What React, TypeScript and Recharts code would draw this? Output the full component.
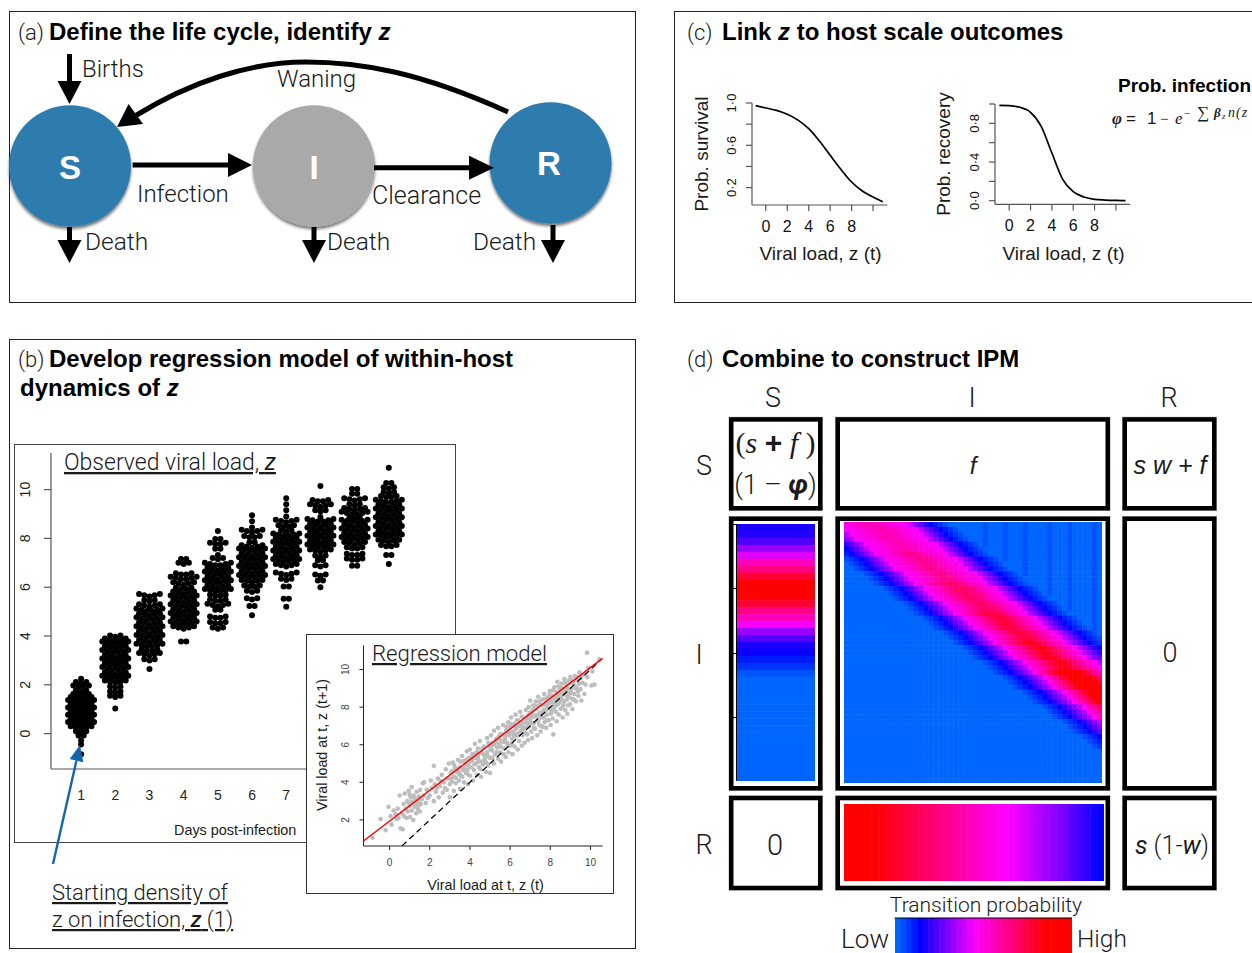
import React from "react";
import {
  ScatterChart,
  Scatter,
  LineChart,
  Line,
  XAxis,
  YAxis,
} from "recharts";

// Composite figure: life cycle diagram (a), swarm + regression (b),
// host scale curves (c) and the IPM block matrix (d).

const SANS = "'Liberation Sans', Arial, sans-serif";
const LIGHT = "Roboto, 'Liberation Sans', sans-serif";
const SERIF = "'Liberation Serif', 'DejaVu Serif', serif";

// (b) swarm rows: [viral load, dots in that row]
const day1Rows = [[-0.85,1],[-0.45,1],[-0.28,1],[-0.1,2],[0.05,3],[0.2,5],[0.35,6],[0.5,5],[0.65,6],[0.8,5],[0.95,6],[1.1,5],[1.25,6],[1.4,5],[1.55,4],[1.72,3],[1.9,4],[2.07,3],[2.25,1]];
const day2Rows = [[1.03,1],[1.5,3],[1.68,3],[1.88,3],[2.08,5],[2.25,6],[2.42,5],[2.6,6],[2.78,5],[2.95,6],[3.12,5],[3.3,6],[3.48,5],[3.65,6],[3.8,5],[3.97,3]];
const day3Rows = [[2.65,1],[3.0,3],[3.2,5],[3.38,4],[3.56,6],[3.74,5],[3.92,6],[4.1,5],[4.28,6],[4.46,5],[4.64,6],[4.82,5],[5.0,6],[5.2,5],[5.42,3],[5.62,5]];
const day4Rows = [[3.75,2],[4.3,5],[4.47,6],[4.65,5],[4.82,6],[5.0,5],[5.18,6],[5.36,5],[5.54,6],[5.72,5],[5.9,4],[6.1,5],[6.3,6],[6.5,4],[6.95,3],[7.13,2]];
const day5Rows = [[4.3,3],[4.5,4],[4.72,4],[5.05,2],[5.22,5],[5.42,4],[5.62,4],[5.8,6],[5.98,5],[6.16,6],[6.34,5],[6.52,6],[6.7,5],[6.88,6],[7.15,3],[7.32,1],[7.55,2],[7.75,4],[7.95,2],[8.3,1]];
const day6Rows = [[4.85,1],[5.2,2],[5.5,3],[5.8,3],[6.0,4],[6.2,5],[6.38,6],[6.56,5],[6.74,6],[6.92,5],[7.1,6],[7.28,5],[7.46,6],[7.62,5],[7.82,2],[8.02,4],[8.25,5],[8.45,1],[8.7,1],[8.95,1]];
const day7Rows = [[5.2,1],[5.5,2],[6.0,2],[6.3,3],[6.5,5],[6.85,5],[7.03,6],[7.2,5],[7.38,6],[7.56,5],[7.74,6],[7.92,5],[8.08,6],[8.28,3],[8.46,4],[8.66,5],[8.9,1],[9.15,1],[9.4,1],[9.65,1]];
const day8Rows = [[6.0,1],[6.25,2],[6.47,3],[6.85,3],[7.08,2],[7.25,3],[7.45,5],[7.63,6],[7.8,5],[7.98,6],[8.15,5],[8.32,6],[8.5,5],[8.67,6],[8.88,1],[9.1,3],[9.3,5],[9.5,4],[10.15,1]];
const day9Rows = [[6.85,2],[7.1,4],[7.3,4],[7.56,4],[7.75,5],[7.93,6],[8.1,5],[8.28,6],[8.46,5],[8.64,6],[8.8,3],[8.97,6],[9.15,5],[9.35,3],[9.55,5],[9.8,2],[10.0,2]];
const day10Rows = [[6.95,1],[7.3,2],[7.65,4],[7.85,5],[8.03,6],[8.2,5],[8.38,6],[8.56,5],[8.74,6],[8.92,5],[9.1,6],[9.28,5],[9.46,6],[9.66,4],[9.85,3],[10.05,3],[10.25,2],[10.9,1]];
const swarmDays = [day1Rows, day2Rows, day3Rows, day4Rows, day5Rows, day6Rows, day7Rows, day8Rows, day9Rows, day10Rows];
const dayTicks = [1, 2, 3, 4, 5, 6, 7, 8, 9, 10];
const swarmYTicks = [0, 2, 4, 6, 8, 10];

// (b) inset scatter, [z(t), z(t+1)]
const regressionPoints = [
  [-0.85,1.05],[-0.45,2.05],[-0.2,1.45],[-0.05,2.7],[0.05,2.2],[0.1,1.75],[0.2,2.5],[0.3,2.3],[0.35,2.05],[0.4,2.6],[0.45,2.1],[0.5,3.3],[0.55,1.55],[0.6,2.35],[0.65,1.5],[0.7,2.85],
  [0.72,2.2],[0.75,3.4],[0.8,2.6],[0.85,2.1],[0.88,3.0],[0.9,2.45],[0.95,3.55],[1.0,2.75],[1.02,2.15],[1.05,3.2],[1.1,2.5],[1.1,3.75],[1.15,2.9],[1.18,2.0],[1.2,3.3],[1.25,2.7],
  [1.3,3.0],[1.32,2.35],[1.35,3.5],[1.4,2.6],[1.42,2.95],[1.45,3.25],[1.5,2.45],[1.52,3.6],[1.55,2.85],[1.6,3.1],[1.65,3.95],[1.7,3.3],[1.72,4.0],[1.8,2.9],[1.85,3.6],[1.9,3.15],
  [2.0,3.3],[2.05,4.1],[2.1,3.7],[2.2,4.88],[2.2,3.0],[2.25,3.9],[2.3,3.5],[2.4,4.2],[2.45,3.2],[2.5,3.8],[2.6,4.4],[2.65,3.45],[2.7,4.0],[2.8,4.7],[2.85,3.6],[2.9,4.2],
  [2.95,5.0],[3.0,3.9],[3.0,3.2],[3.05,4.5],[3.1,4.05],[3.15,5.05],[3.2,4.3],[3.2,3.55],[3.25,4.7],[3.3,3.95],[3.35,4.55],[3.4,5.2],[3.45,4.1],[3.5,4.8],[3.5,3.65],[3.55,4.35],
  [3.6,5.4],[3.65,4.65],[3.7,4.0],[3.75,5.0],[3.8,4.5],[3.85,5.65],[3.9,3.9],[3.9,4.9],[3.95,5.3],[4.0,4.35],[4.0,5.75],[4.05,4.8],[4.1,5.15],[4.15,4.1],[4.2,5.5],[4.2,4.65],
  [4.25,6.05],[4.3,5.0],[4.35,4.4],[4.4,5.35],[4.4,5.8],[4.45,4.8],[4.5,6.2],[4.5,5.1],[4.55,4.3],[4.6,5.55],[4.65,4.95],[4.7,5.9],[4.75,5.25],[4.8,4.55],[4.85,6.35],[4.85,5.6],
  [4.9,4.9],[4.95,5.95],[5.0,5.3],[5.0,4.5],[5.05,6.5],[5.1,5.7],[5.15,6.1],[5.2,5.0],[5.2,6.75],[5.25,5.5],[5.3,6.3],[5.35,5.85],[5.4,5.25],[5.4,6.9],[5.45,6.05],[5.5,5.6],
  [5.5,6.55],[5.55,5.1],[5.6,6.2],[5.65,7.05],[5.7,5.8],[5.72,6.45],[5.78,5.35],[5.8,6.75],[5.85,6.1],[5.9,7.2],[5.92,5.6],[5.95,6.5],[6.0,6.9],[6.0,5.95],[6.05,7.45],[6.1,6.3],
  [6.12,5.5],[6.15,6.7],[6.2,7.1],[6.22,5.9],[6.27,7.6],[6.3,6.45],[6.35,6.95],[6.38,5.75],[6.4,7.3],[6.45,6.2],[6.5,7.75],[6.5,6.7],[6.55,7.15],[6.58,5.95],[6.62,6.5],[6.65,7.45],
  [6.7,6.9],[6.72,6.1],[6.78,7.85],[6.8,7.2],[6.85,6.55],[6.88,7.55],[6.9,6.25],[6.92,8.0],[6.95,7.0],[7.0,7.35],[7.0,8.35],[7.05,6.7],[7.08,7.7],[7.1,6.35],[7.15,8.1],[7.18,7.15],
  [7.2,7.5],[7.25,6.85],[7.28,8.3],[7.3,7.9],[7.35,6.5],[7.38,7.35],[7.4,8.55],[7.45,7.05],[7.48,7.7],[7.5,8.15],[7.52,6.7],[7.58,7.45],[7.6,8.4],[7.62,6.95],[7.68,7.85],[7.7,8.7],
  [7.72,7.2],[7.78,8.2],[7.8,6.9],[7.82,7.6],[7.88,8.5],[7.9,7.95],[7.92,7.3],[7.98,8.85],[8.0,8.25],[8.02,7.05],[8.05,7.7],[8.1,8.6],[8.12,7.4],[8.15,6.55],[8.18,8.0],[8.2,9.05],
  [8.22,8.4],[8.28,7.75],[8.3,8.8],[8.32,7.25],[8.35,9.35],[8.38,8.15],[8.4,8.6],[8.42,7.6],[8.48,9.0],[8.5,8.35],[8.52,7.9],[8.55,9.25],[8.6,8.7],[8.62,7.45],[8.65,8.1],[8.7,9.5],
  [8.72,8.9],[8.75,7.85],[8.8,9.15],[8.82,8.4],[8.85,7.65],[8.9,8.75],[8.92,9.4],[8.98,8.15],[9.0,9.6],[9.02,8.95],[9.08,8.45],[9.1,7.9],[9.15,9.25],[9.2,8.7],[9.22,9.65],[9.28,8.3],
  [9.3,9.05],[9.35,9.45],[9.4,8.6],[9.45,9.85],[9.5,8.95],[9.55,8.35],[9.6,9.3],[9.65,9.7],[9.7,8.7],[9.75,9.2],[9.83,10.9],[9.85,9.6],[9.9,10.1],[10.05,9.15],[10.1,9.9],[10.2,9.2],[10.45,10.55],
  [3.1,4.6],[3.22,4.9],[3.3,4.25],[3.42,4.6],[3.52,5.1],[3.62,4.3],[3.72,4.75],[3.82,5.2],[3.92,4.4],[4.02,5.1],[4.12,5.5],[4.22,4.95],[4.32,5.6],[4.42,5.15],[4.52,4.7],[4.62,5.8],
  [4.72,5.45],[4.82,5.05],[4.92,6.1],[5.02,5.75],[5.12,5.3],[5.22,6.0],[5.32,5.6],[5.42,6.4],[5.52,5.9],[5.62,6.55],[5.68,5.5],[5.75,6.3],[5.82,6.95],[5.88,6.0],[5.98,6.65],[6.08,6.05],
  [6.08,7.0],[6.18,6.5],[6.28,6.85],[6.33,7.3],[6.42,6.6],[6.48,7.1],[6.58,7.5],[6.6,6.8],[6.68,7.2],[6.75,6.65],[6.82,7.4],[6.88,6.95],[6.98,7.7],[7.03,7.15],[7.12,7.85],[7.18,6.9],
  [7.25,7.55],[7.32,8.05],[7.4,7.25],[7.45,8.3],[7.5,7.65],[7.55,7.0],[7.62,8.1],[7.68,7.45],[7.75,8.45],[7.8,7.85],[7.85,7.3],[7.92,8.2],[7.95,8.65],[8.02,7.65],[8.08,8.35],[8.13,8.9],
  [8.18,7.85],[8.25,8.55],[8.3,8.1],[8.35,8.75],[8.4,9.1],[8.45,8.25],[8.5,8.8],[8.55,8.5],[8.58,7.95],[8.62,9.0],[8.68,8.3],[8.72,9.3],[8.78,8.65],[8.85,9.0],[8.88,8.1],[8.92,8.55],
  [8.95,9.3],[9.05,8.75],[9.12,9.4],[9.18,8.4],[9.25,9.0],[9.32,9.6],[9.38,8.85],[9.42,9.25],[9.5,9.55],[1.25,3.15],[1.1,2.95],[0.95,2.9],[1.35,2.75],[1.0,3.35],[1.45,2.8],[2.35,3.7],
  [2.75,3.7],[2.55,4.05],[3.05,4.2],[3.28,4.75],[3.48,4.45],[3.68,5.15],[3.88,4.65],[4.08,5.3],[4.28,5.3],[4.48,5.55],[4.68,5.15],[4.88,5.4],[5.08,5.95],[5.28,6.15],[5.48,6.3],[5.68,6.15],
  [5.88,6.55],[6.02,7.1],[6.25,6.6],[6.45,7.0],[6.65,6.95],[6.85,7.15],[7.05,7.5],[7.22,7.9],[7.42,7.6],[7.62,7.75],[7.82,8.05],[8.0,7.9],[8.2,8.2],[8.4,8.4],[8.6,8.35],[8.8,8.85],
];
const regressionLine = [{ x: -1.3, y: 0.88 }, { x: 10.6, y: 10.59 }];
const identityLine = [{ x: 0.62, y: 0.62 }, { x: 10.5, y: 10.5 }];
const regXTicks = [0, 2, 4, 6, 8, 10];
const regYTicks = [2, 4, 6, 8, 10];

// (c) curves
const survivalX = [-0.95, 0, 1, 2, 3, 4, 5, 6, 7, 8, 9, 10, 10.9];
const survivalY = [0.975, 0.953, 0.93, 0.893, 0.838, 0.757, 0.64, 0.505, 0.373, 0.253, 0.168, 0.11, 0.067];
const recoveryX = [-0.92, 0, 1, 2, 3, 4, 5, 6, 7, 8, 9, 10, 10.9];
const recoveryY = [0.986, 0.983, 0.966, 0.914, 0.769, 0.493, 0.224, 0.093, 0.038, 0.014, 0.007, 0.003, 0.001];
const curveXTicks = [0, 2, 4, 6, 8, 10];
const survivalYTicks = [0.2, 0.4, 0.6, 0.8, 1];
const survivalLabels = [0.2, 0.6, 1];
const recoveryYTicks = [0, 0.2, 0.4, 0.6, 0.8, 1];
const recoveryLabels = [0, 0.4, 0.8];

// (d) heat values, 0..1 per cell
const infectionColumn = [0.15,0.16,0.21,0.3,0.38,0.52,0.6,0.72,0.86,0.9,0.86,0.72,0.6,0.52,0.41,0.3,0.22,0.15,0.13,0.09,0.06,0.02,0,0,0,0,0,0,0,0,0,0,0,0,0,0,0];

// the I to I matrix is read row by row: where the band starts and which cross-section it has.
// Cross-sections are base 36 digits (digit / 35), reddest in the middle.
const bandShapes = [
  "0123468ACFFGGHIIJIIHGGFFCA8643210",
  "0123468ACFGGHIJKLKJIHGGFCA8643210",
  "0123468ACFGHIKLMNMLKIHGFCA8643210",
  "0123468ACFGIJLNOPONLJIGFCA8643210",
  "0123468ACFHIKMOQRQOMKIHFCA8643210",
  "0123468ACFIKNQSTUTSQNKIFCA8643210",
];
const bandStarts = [-11,-9,-8,-7,-5,-4,-3,-1,0,1,3,4,5,7,8,9,11,12,13,15,16,17,19,20,21,23,24,25,27,28,29,31,32,33,35,36,37,39,40,41,43,44,45,47,48,49,51,52,52,52,52,52,52];
const bandShapeOfRow = [0,0,0,0,0,0,1,1,1,1,1,1,2,2,2,2,2,2,3,3,3,3,3,3,4,4,4,4,4,4,5,5,5,5,5,5,5,5,5,5,5,5,5,5,5,5,5,5,5,5,5,5,5];
const stripeCols = [28, 32, 36, 41, 45, 50]; // faint darker columns above the band
const stripeValue = 0.025;

const recoveredRow = [0.9,0.88,0.86,0.84,0.8,0.78,0.76,0.74,0.72,0.7,0.68,0.66,0.64,0.62,0.6,0.58,0.56,0.54,0.52,0.5,0.48,0.46,0.44,0.42,0.41,0.39,0.37,0.35,0.33,0.31,0.29,0.27,0.25,0.22,0.2,0.17,0.14,0.12];
const legendRow = [0,0.03,0.06,0.09,0.12,0.15,0.18,0.21,0.24,0.27,0.3,0.33,0.36,0.39,0.42,0.45,0.48,0.51,0.54,0.57,0.6,0.63,0.66,0.69,0.72,0.75,0.78,0.81,0.86,0.9,0.95,1];

const heatStops: [number, number[]][] = [
  [0, [0, 102, 255]],
  [0.12, [0, 0, 255]],
  [0.42, [255, 0, 255]],
  [0.8, [255, 0, 0]],
  [1, [255, 0, 0]],
];

function heatColor(t: number) {
  for (let i = 1; i < heatStops.length; i++) {
    const [t1, c1] = heatStops[i];
    const [t0, c0] = heatStops[i - 1];
    if (t <= t1) {
      const f = (t - t0) / (t1 - t0);
      return `rgb(${c0.map((c, k) => Math.round(c + (c1[k] - c) * f)).join(",")})`;
    }
  }
  return "rgb(255,0,0)";
}

const swarmPoints = swarmDays.flatMap((rows, d) =>
  rows.flatMap(([level, n]) =>
    Array.from({ length: n }, (_, i) => {
      const off = i - (n - 1) / 2;
      return { x: d + 1 + off * 0.152, y: level + Math.abs(off) * 0.05 };
    })
  )
);
const regressionData = regressionPoints.map(([x, y]) => ({ x, y }));
const survivalData = survivalX.map((x, i) => ({ x, y: survivalY[i] }));
const recoveryData = recoveryX.map((x, i) => ({ x, y: recoveryY[i] }));

const MATRIX_COLS = 52;
const transitionCells = bandStarts.flatMap((start, r) =>
  Array.from({ length: MATRIX_COLS }, (_, c) => {
    const digit = bandShapes[bandShapeOfRow[r]][c - start];
    const above = c - start > 32 && stripeCols.includes(c);
    return { x: c + 0.5, y: r + 0.5, t: digit ? parseInt(digit, 36) / 35 : above ? stripeValue : 0 };
  })
);

const place = (left: number, top: number): React.CSSProperties => ({ position: "absolute", left, top });
const noDot = () => <g />;

// one rect per cell, sized from the chart box
function HeatGrid({ cells, cols, rows, left, top, width, height }: {
  cells: { x: number; y: number; t: number }[];
  cols: number; rows: number; left: number; top: number; width: number; height: number;
}) {
  const w = width / cols;
  const h = height / rows;
  return (
    <div style={place(left, top)}>
      <ScatterChart width={width} height={height} margin={{ top: 0, right: 0, bottom: 0, left: 0 }}>
        <XAxis type="number" dataKey="x" domain={[0, cols]} hide />
        <YAxis type="number" dataKey="y" domain={[0, rows]} reversed hide />
        <Scatter
          data={cells}
          isAnimationActive={false}
          shape={(p: any) => (
            <rect x={p.cx - w / 2} y={p.cy - h / 2} width={w + 0.5} height={h + 0.5} fill={heatColor(p.payload.t)} />
          )}
        />
      </ScatterChart>
    </div>
  );
}

const rotatedTick = (labels: number[] | null, size: number, fill: string, fmt: (v: number) => string) => (p: any) => {
  const v = p.payload.value;
  if (labels && !labels.some((l) => Math.abs(l - v) < 1e-6)) return <g />;
  return (
    <text x={p.x} y={p.y} transform={`rotate(-90 ${p.x} ${p.y})`} textAnchor="middle" fontSize={size} fontFamily={SANS} fill={fill}>
      {fmt(v)}
    </text>
  );
};

const plainXTick = (size: number, fill: string, maxLabel: number) => (p: any) =>
  p.payload.value > maxLabel ? <g /> : (
    <text x={p.x} y={p.y} textAnchor="middle" fontSize={size} fontFamily={SANS} fill={fill}>
      {p.payload.value}
    </text>
  );

const midDot = (v: number) => v.toFixed(1).replace(".", "\u00b7");

function CurveChart({ data, left, plotW, xDomain, yDomain, yTicks, yLabels, top }: any) {
  const yw = 40;
  const pad = 14; // room for the rotated label at the top tick
  return (
    <div style={place(left - yw, top - pad)}>
      <LineChart width={yw + plotW + 4} height={204.7 - top + 36 + pad} data={data} margin={{ top: pad, right: 4, bottom: 0, left: 0 }}>
        <XAxis
          type="number"
          dataKey="x"
          domain={xDomain}
          ticks={curveXTicks}
          interval={0}
          height={36}
          stroke="#555"
          strokeWidth={1.2}
          tickSize={6}
          tickMargin={21}
          tick={plainXTick(16, "#111", 8)}
        />
        <YAxis
          type="number"
          dataKey="y"
          domain={yDomain}
          ticks={yTicks}
          interval={0}
          width={yw}
          stroke="#555"
          strokeWidth={1.2}
          tickSize={6}
          tickMargin={10}
          tick={rotatedTick(yLabels, 13, "#111", midDot)}
        />
        <Line type="monotone" dataKey="y" stroke="#000" strokeWidth={1.7} dot={false} isAnimationActive={false} />
      </LineChart>
    </div>
  );
}

function T({ x, y, size = 24, weight, family = LIGHT, anchor, fill = "#1a1a1a", rotate, under, style, children }: any) {
  return (
    <text
      x={x}
      y={y}
      fontSize={size}
      fontWeight={weight ?? (family === LIGHT ? 300 : 400)}
      fontFamily={family}
      textAnchor={anchor}
      fill={fill}
      textDecoration={under ? "underline" : undefined}
      transform={rotate ? `rotate(-90 ${x} ${y})` : undefined}
      style={style}
    >
      {children}
    </text>
  );
}

const Arrow = ({ x1, y1, x2, y2, head = 24, len = 24, w = 5, color = "#000" }: any) => {
  const dx = x2 - x1;
  const dy = y2 - y1;
  const d = Math.hypot(dx, dy);
  const ux = dx / d;
  const uy = dy / d;
  const bx = x2 - ux * len;
  const by = y2 - uy * len;
  return (
    <g>
      <line x1={x1} y1={y1} x2={bx} y2={by} stroke={color} strokeWidth={w} />
      <polygon
        points={`${x2},${y2} ${bx - (uy * head) / 2},${by + (ux * head) / 2} ${bx + (uy * head) / 2},${by - (ux * head) / 2}`}
        fill={color}
      />
    </g>
  );
};

const boxCols = [[728.5, 823], [835, 1110.5], [1122, 1217]];
const boxRows = [[416.7, 511], [516, 791], [795.3, 890.7]];

export default function App() {
  return (
    <div style={{ position: "absolute", left: 0, top: 0, width: 1252, height: 953, overflow: "hidden", background: "#fff" }}>
      {/* frames under the charts */}
      <svg width={1252} height={953} style={place(0, 0)}>
        <rect x={9.5} y={11.5} width={626} height={291} fill="none" stroke="#222" />
        <rect x={9.5} y={339.5} width={626} height={609} fill="none" stroke="#222" />
        <rect x={674.5} y={11.5} width={600} height={291} fill="none" stroke="#222" />
        <rect x={14.5} y={444.5} width={441} height={398} fill="none" stroke="#444" />
        {boxCols.map(([x0, x1]) =>
          boxRows.map(([y0, y1]) => (
            <g key={`${x0}-${y0}`}>
              <rect x={x0} y={y0} width={x1 - x0} height={y1 - y0} fill="#bbb" />
              <rect x={x0 + 0.5} y={y0 + 0.5} width={x1 - x0 - 1} height={y1 - y0 - 1} fill="#000" />
              <rect x={x0 + 5} y={y0 + 5} width={x1 - x0 - 10} height={y1 - y0 - 10} fill="#fff" />
            </g>
          ))
        )}
      </svg>

      {/* swarm */}
      <div style={place(14, 444)}>
        <ScatterChart width={441} height={398} margin={{ top: 9, right: 32, bottom: 0, left: 0 }}>
          <XAxis
            type="number"
            dataKey="x"
            domain={[0.12, 11]}
            ticks={dayTicks}
            interval={0}
            height={73}
            stroke="#555"
            strokeWidth={1.2}
            tickLine={false}
            tickSize={0}
            tickMargin={31}
            tick={plainXTick(14, "#222", 10)}
          />
          <YAxis
            type="number"
            dataKey="y"
            domain={[-1.45, 11.5]}
            ticks={swarmYTicks}
            interval={0}
            width={37}
            stroke="#555"
            strokeWidth={1.2}
            tickSize={7}
            tickMargin={14}
            tick={rotatedTick(null, 14, "#222", String)}
          />
          <Scatter
            data={swarmPoints}
            isAnimationActive={false}
            shape={(p: any) => <circle cx={p.cx} cy={p.cy} r={3} fill="#000" />}
          />
        </ScatterChart>
      </div>

      {/* regression inset */}
      <div style={{ ...place(306, 634), width: 308, height: 260, boxSizing: "border-box", border: "1.5px solid #333", background: "#fff" }}>
        <ScatterChart width={305} height={257} margin={{ top: 10.5, right: 9.5, bottom: 0, left: 0 }}>
          <XAxis
            type="number"
            dataKey="x"
            domain={[-1.3, 10.6]}
            ticks={regXTicks}
            interval={0}
            height={46}
            stroke="#222"
            tickSize={4}
            tickMargin={16}
            tick={plainXTick(10, "#444", 10)}
          />
          <YAxis
            type="number"
            dataKey="y"
            domain={[0.613, 11.28]}
            ticks={regYTicks}
            interval={0}
            width={56.5}
            stroke="#222"
            tickSize={4}
            tickMargin={10}
            tick={rotatedTick(null, 10, "#444", String)}
          />
          <Scatter
            data={regressionData}
            isAnimationActive={false}
            shape={(p: any) => <circle cx={p.cx} cy={p.cy} r={2.3} fill="#bdbdbd" />}
          />
          <Scatter
            data={identityLine}
            isAnimationActive={false}
            line={{ stroke: "#000", strokeWidth: 1.3, strokeDasharray: "6 4" }}
            shape={noDot}
          />
          <Scatter
            data={regressionLine}
            isAnimationActive={false}
            line={{ stroke: "#f00", strokeWidth: 1.5 }}
            shape={noDot}
          />
        </ScatterChart>
      </div>

      {/* (c) */}
      <CurveChart data={survivalData} left={751.9} top={102.7} plotW={135.3} xDomain={[-1.29, 11.33]} yDomain={[0.0355, 1]} yTicks={survivalYTicks} yLabels={survivalLabels} />
      <CurveChart data={recoveryData} left={994.5} top={104.3} plotW={135} xDomain={[-1.33, 11.32]} yDomain={[-0.038, 1]} yTicks={recoveryYTicks} yLabels={recoveryLabels} />

      {/* (d) */}
      <HeatGrid
        cells={infectionColumn.map((t, r) => ({ x: 0.5, y: r + 0.5, t }))}
        cols={1} rows={infectionColumn.length}
        left={736.5} top={524} width={78.5} height={256.7}
      />
      <HeatGrid
        cells={transitionCells}
        cols={MATRIX_COLS} rows={bandStarts.length}
        left={844} top={521.7} width={258} height={261.3}
      />
      <HeatGrid
        cells={recoveredRow.map((t, c) => ({ x: c + 0.5, y: 0.5, t }))}
        cols={38} rows={1}
        left={844} top={804} width={260} height={77}
      />
      <HeatGrid
        cells={legendRow.map((t, c) => ({ x: c + 0.5, y: 0.5, t }))}
        cols={32} rows={1}
        left={894.5} top={918} width={177.5} height={35}
      />

      {/* diagram and text on top */}
      <svg width={1252} height={953} style={{ ...place(0, 0), pointerEvents: "none" }}>
        <defs>
          <filter id="sh" x="-10%" y="-10%" width="120%" height="125%">
            <feDropShadow dx={0} dy={2.5} stdDeviation={1.6} floodColor="#000" floodOpacity={0.55} />
          </filter>
        </defs>

        {/* (a) */}
        <T x={18} y={40} size={22}>(a)</T>
        <T x={49} y={40} weight={700} family={SANS} fill="#000">
          Define the life cycle, identify <tspan fontStyle="italic">z</tspan>
        </T>
        <ellipse cx={70} cy={166} rx={61} ry={60.7} fill="#2e7bae" filter="url(#sh)" />
        <ellipse cx={314} cy={166} rx={61} ry={60.7} fill="#a9a9a9" filter="url(#sh)" />
        <ellipse cx={550.5} cy={163} rx={61} ry={60.7} fill="#2e7bae" filter="url(#sh)" />
        <T x={70} y={179} size={33} weight={700} family={SANS} anchor="middle" fill="#fff">S</T>
        <T x={314} y={179} size={33} weight={700} family={SANS} anchor="middle" fill="#fff">I</T>
        <T x={549} y={175} size={33} weight={700} family={SANS} anchor="middle" fill="#fff">R</T>
        <Arrow x1={69.5} y1={54} x2={69.5} y2={104} len={23} />
        <Arrow x1={132.6} y1={165} x2={252} y2={165} len={24} />
        <Arrow x1={374} y1={167.7} x2={494} y2={167.7} len={25} />
        <Arrow x1={69.5} y1={227} x2={69.5} y2={263} len={23} />
        <Arrow x1={314} y1={227} x2={314} y2={263} len={23} />
        <Arrow x1={553} y1={225} x2={553} y2={263} len={23} />
        <path d="M508,112 C420,72 360,62 306,62 C250,62 190,82 135,116" fill="none" stroke="#000" strokeWidth={5} />
        <polygon points="117,127 128.6,104 143,124" fill="#000" />
        <T x={82} y={77}>Births</T>
        <T x={277} y={87}>Waning</T>
        <T x={137} y={202}>Infection</T>
        <T x={372} y={204} size={25}>Clearance</T>
        <T x={85} y={250} size={24.5}>Death</T>
        <T x={327} y={250} size={24.5}>Death</T>
        <T x={473} y={250} size={24.5}>Death</T>

        {/* (b) */}
        <T x={18} y={367} size={22}>(b)</T>
        <T x={49} y={367} weight={700} family={SANS} fill="#000">Develop regression model of within-host</T>
        <T x={20} y={396} weight={700} family={SANS} fill="#000">
          dynamics of <tspan fontStyle="italic">z</tspan>
        </T>
        <T x={64} y={470} size={23} under>
          Observed viral load, <tspan fontStyle="italic" fontWeight={400}>z</tspan>
        </T>
        <T x={174} y={835} size={14.4} family={SANS}>Days post-infection</T>
        <T x={372} y={661} size={22.2} under>Regression model</T>
        <T x={327} y={745} size={14.3} family={SANS} anchor="middle" rotate>Viral load at t, z (t+1)</T>
        <T x={485.5} y={890} size={14.4} family={SANS} anchor="middle">Viral load at t, z (t)</T>
        <Arrow x1={53} y1={864} x2={80} y2={745} len={16} head={14} w={2.4} color="#1565b0" />
        <T x={52} y={900} size={22} under>Starting density of</T>
        <T x={52} y={927} size={22} under>
          z on infection, <tspan fontStyle="italic" fontWeight={500}>z</tspan> (1)
        </T>

        {/* (c) */}
        <T x={687} y={40} size={22}>(c)</T>
        <T x={722} y={40} weight={700} family={SANS} fill="#000">
          Link <tspan fontStyle="italic">z</tspan> to host scale outcomes
        </T>
        <T x={708} y={154} size={19} family={SANS} anchor="middle" rotate>Prob. survival</T>
        <T x={950} y={154} size={19} family={SANS} anchor="middle" rotate>Prob. recovery</T>
        <T x={820.5} y={260} size={19} family={SANS} anchor="middle">Viral load, z (t)</T>
        <T x={1063.5} y={260} size={19} family={SANS} anchor="middle">Viral load, z (t)</T>
        <T x={1118} y={92} size={19} weight={700} family={SANS} fill="#000">Prob. infection</T>
        <g fontFamily={SERIF} fill="#1a1a1a">
          <text x={1112} y={124} fontSize={17} fontStyle="italic" fontWeight={700}>{"\u03c6"}</text>
          <text x={1126} y={124} fontSize={17} fontFamily={SANS}>=</text>
          <text x={1147} y={124} fontSize={17} fontFamily={SANS}>1</text>
          <text x={1160} y={124} fontSize={15}>{"\u2212"}</text>
          <text x={1175} y={124} fontSize={17} fontStyle="italic">e</text>
          <text x={1184} y={117} fontSize={12}>{"\u2212"}</text>
          <text x={1197} y={118} fontSize={17}>{"\u2211"}</text>
          <text x={1214} y={117} fontSize={13} fontStyle="italic" fontWeight={700}>{"\u03b2"}</text>
          <text x={1222} y={119} fontSize={9} fontStyle="italic">z</text>
          <text x={1228} y={117} fontSize={14} fontStyle="italic" letterSpacing={1}>n(z</text>
        </g>

        {/* (d) */}
        <T x={687} y={367} size={22}>(d)</T>
        <T x={722} y={367} weight={700} family={SANS} fill="#000">Combine to construct IPM</T>
        <T x={773} y={407} size={27} anchor="middle">S</T>
        <T x={972} y={407} size={27} anchor="middle">I</T>
        <T x={1169} y={407} size={27} anchor="middle">R</T>
        <T x={704} y={475} size={27} anchor="middle">S</T>
        <T x={699} y={664} size={27} anchor="middle">I</T>
        <T x={704} y={854} size={27} anchor="middle">R</T>
        <T x={775.5} y={453} size={30} family={SERIF} anchor="middle">
          (<tspan fontStyle="italic">s</tspan> <tspan fontFamily={SANS} fontWeight={700}>+</tspan>  <tspan fontStyle="italic">f</tspan> )
        </T>
        <T x={775.5} y={494} size={27} anchor="middle">
          (1 {"\u2013"} <tspan fontStyle="italic" fontWeight={700}>{"\u03c6"}</tspan>)
        </T>
        <T x={973} y={474} size={24} family={SANS} anchor="middle" style={{ fontStyle: "italic" }}>f</T>
        <T x={1170} y={474} size={25} family={SANS} anchor="middle" style={{ fontStyle: "italic" }}>s w + f</T>
        <T x={1170} y={662} size={27} anchor="middle">0</T>
        <T x={775} y={855} size={29} anchor="middle">0</T>
        <T x={1172} y={854} size={25} anchor="middle">
          <tspan fontStyle="italic" fontWeight={400}>s</tspan> (1-<tspan fontStyle="italic" fontWeight={400}>w</tspan>)
        </T>
        <T x={986} y={912} size={21} anchor="middle">Transition probability</T>
        <T x={889} y={948} size={26} anchor="end">Low</T>
        <T x={1077} y={947} size={24.5}>High</T>
        <line x1={894.5} y1={918} x2={1072} y2={918} stroke="#000" />
        <line x1={736.5} y1={524} x2={736.5} y2={781} stroke="#000" />
        <path d="M736,524.5H733M736,588.5H733M736,653.5H733M736,717.5H733" stroke="#000" />
      </svg>
    </div>
  );
}
